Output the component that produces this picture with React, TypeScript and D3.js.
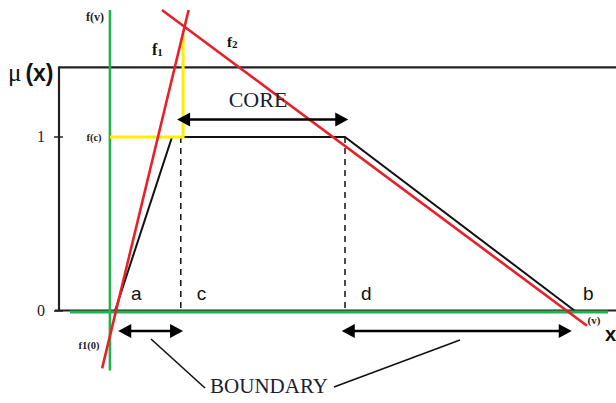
import React from "react";
import * as d3 from "d3";

// Universe positions (units along x)
const pointNames = ["a", "c", "d", "b"];
const pointValues = [0, 1.43, 5.0, 10];
const plateauStart = 1.24;

// Trapezoidal membership function: [x, mu]
const membershipX = [0, plateauStart, 5.0, 10];
const membershipY = [0, 1, 1, 0];

// Reference lines f1 (rising) and f2 (falling): [x, f]
const f1X = [-0.28, 1.6];
const f1Y = [-0.33, 1.73];
const f2X = [1.02, 10.26];
const f2Y = [1.73, -0.085];

// Vertical f(v) axis and the f(c) level
const fAxisX = -0.11;
const fAxisY = [-0.33, 1.73];
const fcX = 1.48;

const yTicks = [0, 1];
const yTickLabels = ["0", "1"];

const W = 616;
const H = 403;

const x = d3.scaleLinear().domain([0, 10]).range([115, 575]);
const y = d3.scaleLinear().domain([0, 1]).range([311, 137]);

const f1At = (v: number) =>
  f1Y[0] + ((f1Y[1] - f1Y[0]) * (v - f1X[0])) / (f1X[1] - f1X[0]);

const serif = "'Liberation Serif', 'Times New Roman', serif";
const sans = "'Liberation Sans', Arial, sans-serif";

function Arrow({ x1, x2, yy }: { x1: number; x2: number; yy: number }) {
  const hw = 13;
  const hh = 7;
  return (
    <g>
      <line x1={x1 + hw - 2} x2={x2 - hw + 2} y1={yy} y2={yy} stroke="#000" strokeWidth={2.5} />
      <path d={`M${x1},${yy} L${x1 + hw},${yy - hh} L${x1 + hw},${yy + hh} Z`} fill="#000" />
      <path d={`M${x2},${yy} L${x2 - hw},${yy - hh} L${x2 - hw},${yy + hh} Z`} fill="#000" />
    </g>
  );
}

export default function App() {
  const line = d3
    .line<number>()
    .x((_, i) => x(membershipX[i]))
    .y((_, i) => y(membershipY[i]));

  const frameLeft = 59;
  const frameTop = y(1.4);

  const fcTop = f1At(fcX);

  return (
    <svg
      width={W}
      height={H}
      style={{ position: "absolute", left: 0, top: 0, background: "#fff" }}
    >
      {/* frame */}
      <line x1={frameLeft} x2={W} y1={frameTop} y2={frameTop} stroke="#222" strokeWidth={2.2} />
      <line x1={frameLeft} x2={frameLeft} y1={frameTop - 1} y2={y(0)} stroke="#222" strokeWidth={2.2} />
      <line x1={55} x2={W} y1={y(0) - 0.5} y2={y(0) - 0.5} stroke="#222" strokeWidth={2} />
      {yTicks.map((t, i) => (
        <g key={t}>
          <line x1={54} x2={63} y1={y(t)} y2={y(t)} stroke="#222" strokeWidth={1.5} />
          <text x={41} y={y(t) + 5} fontFamily={serif} fontSize={16} textAnchor="middle" fill="#222">
            {yTickLabels[i]}
          </text>
        </g>
      ))}

      {/* dashed guides at c and d */}
      {[pointValues[1], pointValues[2]].map((v) => (
        <line
          key={v}
          x1={x(v)}
          x2={x(v)}
          y1={y(1)}
          y2={y(0)}
          stroke="#111"
          strokeWidth={1.5}
          strokeDasharray="6,5"
        />
      ))}

      {/* membership function */}
      <path d={line(membershipX) || ""} fill="none" stroke="#111" strokeWidth={2} />

      {/* green axes */}
      <line x1={70} x2={608} y1={y(0) + 1} y2={y(0) + 1} stroke="#22b14c" strokeWidth={3} />
      <line x1={x(fAxisX)} x2={x(fAxisX)} y1={y(fAxisY[1])} y2={y(fAxisY[0]) + 2} stroke="#22b14c" strokeWidth={2.6} />

      {/* yellow f(c) projection */}
      <polyline
        points={`${x(fAxisX)},${y(1)} ${x(fcX)},${y(1)} ${x(fcX)},${y(fcTop)}`}
        fill="none"
        stroke="#ffee00"
        strokeWidth={3}
      />

      {/* f1 and f2 */}
      <line x1={x(f1X[0])} y1={y(f1Y[0])} x2={x(f1X[1])} y2={y(f1Y[1])} stroke="#e8202a" strokeWidth={2.6} />
      <line x1={x(f2X[0])} y1={y(f2Y[0])} x2={x(f2X[1])} y2={y(f2Y[1])} stroke="#e8202a" strokeWidth={2.6} />

      {/* core / boundary arrows */}
      <Arrow x1={x(1.35)} x2={x(5.07)} yy={y(1.1)} />
      <Arrow x1={x(0.07)} x2={x(1.48)} yy={y(-0.115)} />
      <Arrow x1={x(4.93)} x2={x(9.93)} yy={y(-0.115)} />
      <line x1={151} y1={339} x2={205} y2={388} stroke="#111" strokeWidth={1.6} />
      <line x1={460} y1={340} x2={334} y2={387} stroke="#111" strokeWidth={1.6} />

      <text x={258} y={107} fontFamily={serif} fontSize={22} textAnchor="middle" fill="#1a2030">
        CORE
      </text>
      <text x={269} y={393} fontFamily={serif} fontSize={21} textAnchor="middle" fill="#1a2030">
        BOUNDARY
      </text>

      {/* point names */}
      {pointNames.map((n, i) => (
        <text
          key={n}
          x={x(pointValues[i]) + (i === 3 ? 8 : 16)}
          y={300}
          fontFamily={sans}
          fontSize={19}
          fill="#111"
        >
          {n}
        </text>
      ))}

      {/* axis titles */}
      <text x={8} y={81} fill="#111">
        <tspan fontFamily={serif} fontSize={25}>μ</tspan>
        <tspan fontFamily={sans} fontSize={23} fontWeight="bold" dx={4}>(x)</tspan>
      </text>
      <text x={605} y={341} fontFamily={sans} fontSize={20} fontWeight="bold" fill="#111">
        x
      </text>

      <text x={95} y={21} fontFamily={serif} fontSize={12} fontWeight="bold" textAnchor="middle" fill="#222">
        f(v)
      </text>
      <text x={94} y={141} fontFamily={serif} fontSize={10.5} fontWeight="bold" textAnchor="middle" fill="#222">
        f(c)
      </text>
      <text x={89} y={349} fontFamily={serif} fontSize={10.5} fontWeight="bold" textAnchor="middle" fill="#222">
        f1(0)
      </text>
      <text x={594} y={324} fontFamily={serif} fontSize={11} fontWeight="bold" textAnchor="middle" fill="#222">
        (v)
      </text>

      <text x={152} y={55} fontFamily={serif} fontSize={16} fontWeight="bold" fill="#111">
        f<tspan fontSize={11} dy={1}>1</tspan>
      </text>
      <text x={227} y={47} fontFamily={serif} fontSize={15} fontWeight="bold" fill="#111">
        f<tspan fontSize={11} dy={1}>2</tspan>
      </text>
    </svg>
  );
}
